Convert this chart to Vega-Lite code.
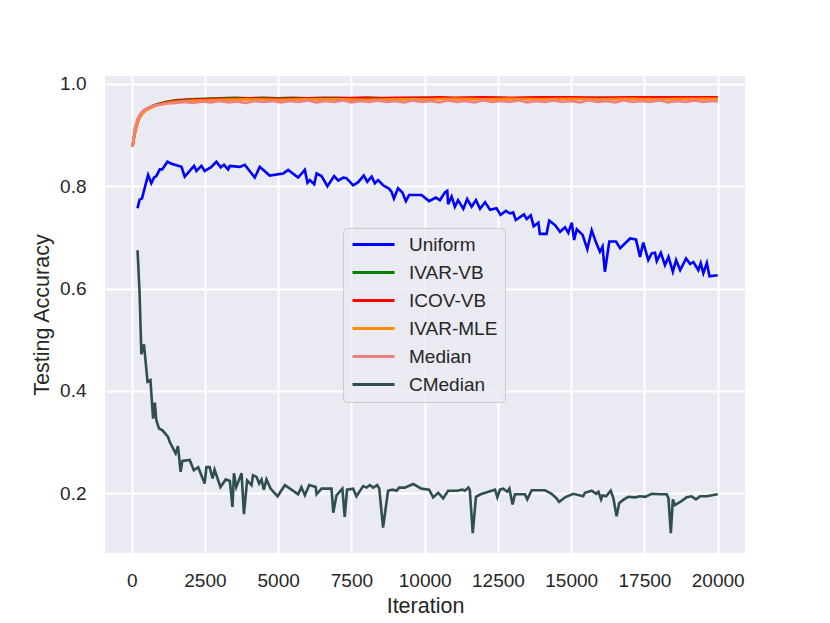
{
  "$schema": "https://vega.github.io/schema/vega-lite/v6.json",
  "width": 640,
  "height": 477,
  "autosize": {"type": "none"},
  "padding": {"left": 105, "top": 76, "right": 85, "bottom": 70},
  "background": "white",
  "config": {
    "view": {"fill": "#EAEAF2", "stroke": null},
    "font": "Liberation Sans",
    "axis": {
      "domain": false, "ticks": false, "grid": true, "gridColor": "white", "gridWidth": 2,
      "labelFont": "Liberation Sans", "labelFontSize": 19, "labelColor": "#262626",
      "titleFont": "Liberation Sans", "titleFontSize": 21.5, "titleFontWeight": "normal", "titleColor": "#262626"
    },
    "legend": {
      "orient": "none", "legendX": 238, "legendY": 152,
      "fillColor": "rgba(234,234,242,0.8)", "strokeColor": "#cccccc", "cornerRadius": 4,
      "padding": 7, "symbolType": "M-1,0L5,0", "symbolSize": 196, "symbolStrokeWidth": 3,
      "symbolFillColor": "transparent",
      "labelFont": "Liberation Sans", "labelFontSize": 19, "labelColor": "#262626",
      "labelOffset": 40, "rowPadding": 8
    }
  },
  "data": {
    "values": [
      {"s": "Uniform", "it": 200, "acc": 0.757}, {"s": "Uniform", "it": 270, "acc": 0.774}, {"s": "Uniform", "it": 350, "acc": 0.776},
      {"s": "Uniform", "it": 560, "acc": 0.822}, {"s": "Uniform", "it": 670, "acc": 0.806}, {"s": "Uniform", "it": 760, "acc": 0.817},
      {"s": "Uniform", "it": 840, "acc": 0.820}, {"s": "Uniform", "it": 960, "acc": 0.833}, {"s": "Uniform", "it": 1040, "acc": 0.833},
      {"s": "Uniform", "it": 1220, "acc": 0.848}, {"s": "Uniform", "it": 1360, "acc": 0.844}, {"s": "Uniform", "it": 1700, "acc": 0.838},
      {"s": "Uniform", "it": 1810, "acc": 0.819}, {"s": "Uniform", "it": 1980, "acc": 0.830}, {"s": "Uniform", "it": 2130, "acc": 0.840},
      {"s": "Uniform", "it": 2210, "acc": 0.830}, {"s": "Uniform", "it": 2380, "acc": 0.840}, {"s": "Uniform", "it": 2490, "acc": 0.830},
      {"s": "Uniform", "it": 2700, "acc": 0.837}, {"s": "Uniform", "it": 2890, "acc": 0.848}, {"s": "Uniform", "it": 3040, "acc": 0.837},
      {"s": "Uniform", "it": 3150, "acc": 0.842}, {"s": "Uniform", "it": 3290, "acc": 0.833}, {"s": "Uniform", "it": 3350, "acc": 0.840},
      {"s": "Uniform", "it": 3690, "acc": 0.838}, {"s": "Uniform", "it": 3860, "acc": 0.842}, {"s": "Uniform", "it": 4200, "acc": 0.817},
      {"s": "Uniform", "it": 4370, "acc": 0.838}, {"s": "Uniform", "it": 4710, "acc": 0.821}, {"s": "Uniform", "it": 5170, "acc": 0.825},
      {"s": "Uniform", "it": 5340, "acc": 0.832}, {"s": "Uniform", "it": 5680, "acc": 0.817}, {"s": "Uniform", "it": 5910, "acc": 0.832},
      {"s": "Uniform", "it": 6000, "acc": 0.807}, {"s": "Uniform", "it": 6080, "acc": 0.812}, {"s": "Uniform", "it": 6230, "acc": 0.804},
      {"s": "Uniform", "it": 6310, "acc": 0.825}, {"s": "Uniform", "it": 6480, "acc": 0.820}, {"s": "Uniform", "it": 6680, "acc": 0.800},
      {"s": "Uniform", "it": 6910, "acc": 0.820}, {"s": "Uniform", "it": 7050, "acc": 0.811}, {"s": "Uniform", "it": 7220, "acc": 0.817},
      {"s": "Uniform", "it": 7330, "acc": 0.816}, {"s": "Uniform", "it": 7560, "acc": 0.802}, {"s": "Uniform", "it": 7730, "acc": 0.808},
      {"s": "Uniform", "it": 7920, "acc": 0.821}, {"s": "Uniform", "it": 8040, "acc": 0.809}, {"s": "Uniform", "it": 8190, "acc": 0.819},
      {"s": "Uniform", "it": 8300, "acc": 0.806}, {"s": "Uniform", "it": 8410, "acc": 0.812}, {"s": "Uniform", "it": 8580, "acc": 0.802},
      {"s": "Uniform", "it": 8790, "acc": 0.795}, {"s": "Uniform", "it": 8870, "acc": 0.789}, {"s": "Uniform", "it": 8950, "acc": 0.776},
      {"s": "Uniform", "it": 9090, "acc": 0.796}, {"s": "Uniform", "it": 9240, "acc": 0.788}, {"s": "Uniform", "it": 9360, "acc": 0.771},
      {"s": "Uniform", "it": 9470, "acc": 0.783}, {"s": "Uniform", "it": 9890, "acc": 0.783}, {"s": "Uniform", "it": 10150, "acc": 0.771},
      {"s": "Uniform", "it": 10380, "acc": 0.778}, {"s": "Uniform", "it": 10520, "acc": 0.773}, {"s": "Uniform", "it": 10690, "acc": 0.788},
      {"s": "Uniform", "it": 10770, "acc": 0.791}, {"s": "Uniform", "it": 10800, "acc": 0.765}, {"s": "Uniform", "it": 10920, "acc": 0.780},
      {"s": "Uniform", "it": 11030, "acc": 0.760}, {"s": "Uniform", "it": 11140, "acc": 0.773}, {"s": "Uniform", "it": 11320, "acc": 0.756},
      {"s": "Uniform", "it": 11450, "acc": 0.775}, {"s": "Uniform", "it": 11600, "acc": 0.760}, {"s": "Uniform", "it": 11750, "acc": 0.773},
      {"s": "Uniform", "it": 11890, "acc": 0.756}, {"s": "Uniform", "it": 12060, "acc": 0.769}, {"s": "Uniform", "it": 12230, "acc": 0.754},
      {"s": "Uniform", "it": 12450, "acc": 0.757}, {"s": "Uniform", "it": 12590, "acc": 0.744}, {"s": "Uniform", "it": 12770, "acc": 0.752},
      {"s": "Uniform", "it": 12910, "acc": 0.747}, {"s": "Uniform", "it": 13020, "acc": 0.749}, {"s": "Uniform", "it": 13110, "acc": 0.734},
      {"s": "Uniform", "it": 13390, "acc": 0.745}, {"s": "Uniform", "it": 13480, "acc": 0.736}, {"s": "Uniform", "it": 13620, "acc": 0.743},
      {"s": "Uniform", "it": 13720, "acc": 0.722}, {"s": "Uniform", "it": 13880, "acc": 0.729}, {"s": "Uniform", "it": 13930, "acc": 0.707},
      {"s": "Uniform", "it": 14160, "acc": 0.707}, {"s": "Uniform", "it": 14250, "acc": 0.733}, {"s": "Uniform", "it": 14450, "acc": 0.724},
      {"s": "Uniform", "it": 14620, "acc": 0.711}, {"s": "Uniform", "it": 14790, "acc": 0.720}, {"s": "Uniform", "it": 14900, "acc": 0.709},
      {"s": "Uniform", "it": 15020, "acc": 0.729}, {"s": "Uniform", "it": 15100, "acc": 0.695}, {"s": "Uniform", "it": 15190, "acc": 0.716},
      {"s": "Uniform", "it": 15390, "acc": 0.705}, {"s": "Uniform", "it": 15550, "acc": 0.677}, {"s": "Uniform", "it": 15700, "acc": 0.714},
      {"s": "Uniform", "it": 15850, "acc": 0.690}, {"s": "Uniform", "it": 15980, "acc": 0.672}, {"s": "Uniform", "it": 16070, "acc": 0.682},
      {"s": "Uniform", "it": 16150, "acc": 0.633}, {"s": "Uniform", "it": 16300, "acc": 0.692}, {"s": "Uniform", "it": 16530, "acc": 0.692},
      {"s": "Uniform", "it": 16670, "acc": 0.679}, {"s": "Uniform", "it": 17010, "acc": 0.698}, {"s": "Uniform", "it": 17210, "acc": 0.696},
      {"s": "Uniform", "it": 17350, "acc": 0.662}, {"s": "Uniform", "it": 17460, "acc": 0.690}, {"s": "Uniform", "it": 17630, "acc": 0.656},
      {"s": "Uniform", "it": 17750, "acc": 0.669}, {"s": "Uniform", "it": 17860, "acc": 0.670}, {"s": "Uniform", "it": 17920, "acc": 0.654},
      {"s": "Uniform", "it": 18060, "acc": 0.670}, {"s": "Uniform", "it": 18200, "acc": 0.646}, {"s": "Uniform", "it": 18320, "acc": 0.662},
      {"s": "Uniform", "it": 18470, "acc": 0.633}, {"s": "Uniform", "it": 18580, "acc": 0.656}, {"s": "Uniform", "it": 18720, "acc": 0.636},
      {"s": "Uniform", "it": 18920, "acc": 0.659}, {"s": "Uniform", "it": 19060, "acc": 0.648}, {"s": "Uniform", "it": 19170, "acc": 0.652},
      {"s": "Uniform", "it": 19340, "acc": 0.636}, {"s": "Uniform", "it": 19420, "acc": 0.650}, {"s": "Uniform", "it": 19510, "acc": 0.630},
      {"s": "Uniform", "it": 19630, "acc": 0.650}, {"s": "Uniform", "it": 19720, "acc": 0.624}, {"s": "Uniform", "it": 20000, "acc": 0.626},

      {"s": "IVAR-VB", "it": 30, "acc": 0.878}, {"s": "IVAR-VB", "it": 100, "acc": 0.904}, {"s": "IVAR-VB", "it": 200, "acc": 0.927},
      {"s": "IVAR-VB", "it": 300, "acc": 0.939}, {"s": "IVAR-VB", "it": 400, "acc": 0.946}, {"s": "IVAR-VB", "it": 500, "acc": 0.951},
      {"s": "IVAR-VB", "it": 700, "acc": 0.957}, {"s": "IVAR-VB", "it": 900, "acc": 0.961}, {"s": "IVAR-VB", "it": 1200, "acc": 0.965},
      {"s": "IVAR-VB", "it": 1500, "acc": 0.968}, {"s": "IVAR-VB", "it": 2000, "acc": 0.970}, {"s": "IVAR-VB", "it": 2500, "acc": 0.971},
      {"s": "IVAR-VB", "it": 3000, "acc": 0.972}, {"s": "IVAR-VB", "it": 3500, "acc": 0.973}, {"s": "IVAR-VB", "it": 4000, "acc": 0.972},
      {"s": "IVAR-VB", "it": 4500, "acc": 0.973}, {"s": "IVAR-VB", "it": 5000, "acc": 0.972}, {"s": "IVAR-VB", "it": 5500, "acc": 0.973},
      {"s": "IVAR-VB", "it": 6000, "acc": 0.972}, {"s": "IVAR-VB", "it": 6500, "acc": 0.973}, {"s": "IVAR-VB", "it": 7000, "acc": 0.973},
      {"s": "IVAR-VB", "it": 7500, "acc": 0.972}, {"s": "IVAR-VB", "it": 8000, "acc": 0.973}, {"s": "IVAR-VB", "it": 9000, "acc": 0.972},
      {"s": "IVAR-VB", "it": 10000, "acc": 0.973}, {"s": "IVAR-VB", "it": 11000, "acc": 0.972}, {"s": "IVAR-VB", "it": 12000, "acc": 0.973},
      {"s": "IVAR-VB", "it": 13000, "acc": 0.972}, {"s": "IVAR-VB", "it": 14000, "acc": 0.973}, {"s": "IVAR-VB", "it": 15000, "acc": 0.972},
      {"s": "IVAR-VB", "it": 16000, "acc": 0.973}, {"s": "IVAR-VB", "it": 17000, "acc": 0.972}, {"s": "IVAR-VB", "it": 18000, "acc": 0.973},
      {"s": "IVAR-VB", "it": 19000, "acc": 0.972}, {"s": "IVAR-VB", "it": 20000, "acc": 0.973},

      {"s": "ICOV-VB", "it": 30, "acc": 0.878}, {"s": "ICOV-VB", "it": 100, "acc": 0.903}, {"s": "ICOV-VB", "it": 200, "acc": 0.926},
      {"s": "ICOV-VB", "it": 300, "acc": 0.938}, {"s": "ICOV-VB", "it": 400, "acc": 0.945}, {"s": "ICOV-VB", "it": 500, "acc": 0.950},
      {"s": "ICOV-VB", "it": 700, "acc": 0.956}, {"s": "ICOV-VB", "it": 900, "acc": 0.960}, {"s": "ICOV-VB", "it": 1200, "acc": 0.964},
      {"s": "ICOV-VB", "it": 1500, "acc": 0.967}, {"s": "ICOV-VB", "it": 2000, "acc": 0.969}, {"s": "ICOV-VB", "it": 2500, "acc": 0.970},
      {"s": "ICOV-VB", "it": 3000, "acc": 0.971}, {"s": "ICOV-VB", "it": 3500, "acc": 0.971}, {"s": "ICOV-VB", "it": 4000, "acc": 0.972},
      {"s": "ICOV-VB", "it": 5000, "acc": 0.971}, {"s": "ICOV-VB", "it": 6000, "acc": 0.972}, {"s": "ICOV-VB", "it": 7000, "acc": 0.972},
      {"s": "ICOV-VB", "it": 8000, "acc": 0.973}, {"s": "ICOV-VB", "it": 8500, "acc": 0.972}, {"s": "ICOV-VB", "it": 9000, "acc": 0.973},
      {"s": "ICOV-VB", "it": 10000, "acc": 0.973}, {"s": "ICOV-VB", "it": 10500, "acc": 0.974}, {"s": "ICOV-VB", "it": 11000, "acc": 0.973},
      {"s": "ICOV-VB", "it": 12000, "acc": 0.974}, {"s": "ICOV-VB", "it": 13000, "acc": 0.973}, {"s": "ICOV-VB", "it": 14000, "acc": 0.974},
      {"s": "ICOV-VB", "it": 15000, "acc": 0.974}, {"s": "ICOV-VB", "it": 16000, "acc": 0.973}, {"s": "ICOV-VB", "it": 17000, "acc": 0.974},
      {"s": "ICOV-VB", "it": 18000, "acc": 0.974}, {"s": "ICOV-VB", "it": 19000, "acc": 0.974}, {"s": "ICOV-VB", "it": 20000, "acc": 0.974},

      {"s": "IVAR-MLE", "it": 30, "acc": 0.878}, {"s": "IVAR-MLE", "it": 100, "acc": 0.900}, {"s": "IVAR-MLE", "it": 200, "acc": 0.925},
      {"s": "IVAR-MLE", "it": 300, "acc": 0.937}, {"s": "IVAR-MLE", "it": 400, "acc": 0.944}, {"s": "IVAR-MLE", "it": 500, "acc": 0.949},
      {"s": "IVAR-MLE", "it": 700, "acc": 0.955}, {"s": "IVAR-MLE", "it": 900, "acc": 0.959}, {"s": "IVAR-MLE", "it": 1200, "acc": 0.963},
      {"s": "IVAR-MLE", "it": 1500, "acc": 0.965}, {"s": "IVAR-MLE", "it": 2000, "acc": 0.967}, {"s": "IVAR-MLE", "it": 2500, "acc": 0.968},
      {"s": "IVAR-MLE", "it": 3000, "acc": 0.969}, {"s": "IVAR-MLE", "it": 4000, "acc": 0.970}, {"s": "IVAR-MLE", "it": 5000, "acc": 0.969},
      {"s": "IVAR-MLE", "it": 6000, "acc": 0.970}, {"s": "IVAR-MLE", "it": 7000, "acc": 0.970}, {"s": "IVAR-MLE", "it": 8000, "acc": 0.969},
      {"s": "IVAR-MLE", "it": 9000, "acc": 0.970}, {"s": "IVAR-MLE", "it": 10000, "acc": 0.970}, {"s": "IVAR-MLE", "it": 11000, "acc": 0.971},
      {"s": "IVAR-MLE", "it": 12000, "acc": 0.970}, {"s": "IVAR-MLE", "it": 13000, "acc": 0.971}, {"s": "IVAR-MLE", "it": 14000, "acc": 0.970},
      {"s": "IVAR-MLE", "it": 15000, "acc": 0.971}, {"s": "IVAR-MLE", "it": 16000, "acc": 0.970}, {"s": "IVAR-MLE", "it": 17000, "acc": 0.971},
      {"s": "IVAR-MLE", "it": 18000, "acc": 0.970}, {"s": "IVAR-MLE", "it": 19000, "acc": 0.971}, {"s": "IVAR-MLE", "it": 20000, "acc": 0.971},

      {"s": "Median", "it": 30, "acc": 0.878}, {"s": "Median", "it": 100, "acc": 0.912}, {"s": "Median", "it": 200, "acc": 0.932},
      {"s": "Median", "it": 300, "acc": 0.942}, {"s": "Median", "it": 400, "acc": 0.948}, {"s": "Median", "it": 500, "acc": 0.952},
      {"s": "Median", "it": 700, "acc": 0.957}, {"s": "Median", "it": 900, "acc": 0.959}, {"s": "Median", "it": 1200, "acc": 0.962},
      {"s": "Median", "it": 1500, "acc": 0.963}, {"s": "Median", "it": 1800, "acc": 0.965}, {"s": "Median", "it": 2100, "acc": 0.963},
      {"s": "Median", "it": 2400, "acc": 0.966}, {"s": "Median", "it": 2700, "acc": 0.964}, {"s": "Median", "it": 3000, "acc": 0.967},
      {"s": "Median", "it": 3300, "acc": 0.964}, {"s": "Median", "it": 3600, "acc": 0.966}, {"s": "Median", "it": 3900, "acc": 0.963},
      {"s": "Median", "it": 4200, "acc": 0.967}, {"s": "Median", "it": 4500, "acc": 0.965}, {"s": "Median", "it": 4800, "acc": 0.967},
      {"s": "Median", "it": 5100, "acc": 0.964}, {"s": "Median", "it": 5400, "acc": 0.967}, {"s": "Median", "it": 5700, "acc": 0.965},
      {"s": "Median", "it": 6000, "acc": 0.968}, {"s": "Median", "it": 6300, "acc": 0.964}, {"s": "Median", "it": 6600, "acc": 0.967},
      {"s": "Median", "it": 6900, "acc": 0.965}, {"s": "Median", "it": 7200, "acc": 0.968}, {"s": "Median", "it": 7500, "acc": 0.964},
      {"s": "Median", "it": 7800, "acc": 0.967}, {"s": "Median", "it": 8100, "acc": 0.965}, {"s": "Median", "it": 8400, "acc": 0.968},
      {"s": "Median", "it": 8700, "acc": 0.965}, {"s": "Median", "it": 9000, "acc": 0.967}, {"s": "Median", "it": 9300, "acc": 0.964},
      {"s": "Median", "it": 9600, "acc": 0.968}, {"s": "Median", "it": 9900, "acc": 0.965}, {"s": "Median", "it": 10200, "acc": 0.967},
      {"s": "Median", "it": 10500, "acc": 0.964}, {"s": "Median", "it": 10800, "acc": 0.968}, {"s": "Median", "it": 11100, "acc": 0.965},
      {"s": "Median", "it": 11400, "acc": 0.967}, {"s": "Median", "it": 11700, "acc": 0.964}, {"s": "Median", "it": 12000, "acc": 0.968},
      {"s": "Median", "it": 12300, "acc": 0.965}, {"s": "Median", "it": 12600, "acc": 0.967}, {"s": "Median", "it": 12900, "acc": 0.965},
      {"s": "Median", "it": 13200, "acc": 0.968}, {"s": "Median", "it": 13500, "acc": 0.964}, {"s": "Median", "it": 13800, "acc": 0.967},
      {"s": "Median", "it": 14100, "acc": 0.965}, {"s": "Median", "it": 14400, "acc": 0.968}, {"s": "Median", "it": 14700, "acc": 0.965},
      {"s": "Median", "it": 15000, "acc": 0.967}, {"s": "Median", "it": 15300, "acc": 0.964}, {"s": "Median", "it": 15600, "acc": 0.968},
      {"s": "Median", "it": 15900, "acc": 0.965}, {"s": "Median", "it": 16200, "acc": 0.967}, {"s": "Median", "it": 16500, "acc": 0.964},
      {"s": "Median", "it": 16800, "acc": 0.968}, {"s": "Median", "it": 17100, "acc": 0.965}, {"s": "Median", "it": 17400, "acc": 0.967},
      {"s": "Median", "it": 17700, "acc": 0.965}, {"s": "Median", "it": 18000, "acc": 0.968}, {"s": "Median", "it": 18300, "acc": 0.964},
      {"s": "Median", "it": 18600, "acc": 0.967}, {"s": "Median", "it": 18900, "acc": 0.965}, {"s": "Median", "it": 19200, "acc": 0.968},
      {"s": "Median", "it": 19500, "acc": 0.965}, {"s": "Median", "it": 19800, "acc": 0.967}, {"s": "Median", "it": 20000, "acc": 0.966},

      {"s": "CMedian", "it": 200, "acc": 0.675}, {"s": "CMedian", "it": 270, "acc": 0.591}, {"s": "CMedian", "it": 330, "acc": 0.472},
      {"s": "CMedian", "it": 420, "acc": 0.491}, {"s": "CMedian", "it": 540, "acc": 0.418}, {"s": "CMedian", "it": 640, "acc": 0.421},
      {"s": "CMedian", "it": 730, "acc": 0.346}, {"s": "CMedian", "it": 790, "acc": 0.377}, {"s": "CMedian", "it": 840, "acc": 0.343},
      {"s": "CMedian", "it": 930, "acc": 0.327}, {"s": "CMedian", "it": 1050, "acc": 0.323}, {"s": "CMedian", "it": 1240, "acc": 0.310},
      {"s": "CMedian", "it": 1300, "acc": 0.300}, {"s": "CMedian", "it": 1500, "acc": 0.278}, {"s": "CMedian", "it": 1580, "acc": 0.292},
      {"s": "CMedian", "it": 1670, "acc": 0.242}, {"s": "CMedian", "it": 1730, "acc": 0.263}, {"s": "CMedian", "it": 1980, "acc": 0.265},
      {"s": "CMedian", "it": 2120, "acc": 0.245}, {"s": "CMedian", "it": 2270, "acc": 0.251}, {"s": "CMedian", "it": 2490, "acc": 0.219},
      {"s": "CMedian", "it": 2550, "acc": 0.251}, {"s": "CMedian", "it": 2660, "acc": 0.251}, {"s": "CMedian", "it": 2760, "acc": 0.229},
      {"s": "CMedian", "it": 2830, "acc": 0.246}, {"s": "CMedian", "it": 3030, "acc": 0.212}, {"s": "CMedian", "it": 3210, "acc": 0.227},
      {"s": "CMedian", "it": 3350, "acc": 0.224}, {"s": "CMedian", "it": 3440, "acc": 0.173}, {"s": "CMedian", "it": 3490, "acc": 0.239},
      {"s": "CMedian", "it": 3570, "acc": 0.212}, {"s": "CMedian", "it": 3750, "acc": 0.239}, {"s": "CMedian", "it": 3830, "acc": 0.159},
      {"s": "CMedian", "it": 3940, "acc": 0.225}, {"s": "CMedian", "it": 4090, "acc": 0.216}, {"s": "CMedian", "it": 4140, "acc": 0.235},
      {"s": "CMedian", "it": 4260, "acc": 0.232}, {"s": "CMedian", "it": 4350, "acc": 0.219}, {"s": "CMedian", "it": 4430, "acc": 0.227},
      {"s": "CMedian", "it": 4510, "acc": 0.207}, {"s": "CMedian", "it": 4600, "acc": 0.227}, {"s": "CMedian", "it": 4740, "acc": 0.209},
      {"s": "CMedian", "it": 4980, "acc": 0.194}, {"s": "CMedian", "it": 5230, "acc": 0.216}, {"s": "CMedian", "it": 5680, "acc": 0.198},
      {"s": "CMedian", "it": 5790, "acc": 0.212}, {"s": "CMedian", "it": 5910, "acc": 0.196}, {"s": "CMedian", "it": 6060, "acc": 0.216},
      {"s": "CMedian", "it": 6280, "acc": 0.212}, {"s": "CMedian", "it": 6310, "acc": 0.198}, {"s": "CMedian", "it": 6480, "acc": 0.209},
      {"s": "CMedian", "it": 6820, "acc": 0.209}, {"s": "CMedian", "it": 6880, "acc": 0.162}, {"s": "CMedian", "it": 6990, "acc": 0.196},
      {"s": "CMedian", "it": 7190, "acc": 0.209}, {"s": "CMedian", "it": 7270, "acc": 0.154}, {"s": "CMedian", "it": 7350, "acc": 0.207},
      {"s": "CMedian", "it": 7560, "acc": 0.209}, {"s": "CMedian", "it": 7670, "acc": 0.194}, {"s": "CMedian", "it": 7900, "acc": 0.214},
      {"s": "CMedian", "it": 8020, "acc": 0.211}, {"s": "CMedian", "it": 8130, "acc": 0.216}, {"s": "CMedian", "it": 8240, "acc": 0.211},
      {"s": "CMedian", "it": 8380, "acc": 0.216}, {"s": "CMedian", "it": 8450, "acc": 0.209}, {"s": "CMedian", "it": 8580, "acc": 0.133},
      {"s": "CMedian", "it": 8750, "acc": 0.205}, {"s": "CMedian", "it": 8900, "acc": 0.207}, {"s": "CMedian", "it": 9040, "acc": 0.205},
      {"s": "CMedian", "it": 9130, "acc": 0.211}, {"s": "CMedian", "it": 9320, "acc": 0.211}, {"s": "CMedian", "it": 9610, "acc": 0.218},
      {"s": "CMedian", "it": 9890, "acc": 0.209}, {"s": "CMedian", "it": 10150, "acc": 0.207}, {"s": "CMedian", "it": 10290, "acc": 0.192},
      {"s": "CMedian", "it": 10460, "acc": 0.201}, {"s": "CMedian", "it": 10630, "acc": 0.190}, {"s": "CMedian", "it": 10800, "acc": 0.205},
      {"s": "CMedian", "it": 11090, "acc": 0.205}, {"s": "CMedian", "it": 11290, "acc": 0.207}, {"s": "CMedian", "it": 11370, "acc": 0.205},
      {"s": "CMedian", "it": 11490, "acc": 0.211}, {"s": "CMedian", "it": 11540, "acc": 0.206}, {"s": "CMedian", "it": 11640, "acc": 0.122},
      {"s": "CMedian", "it": 11750, "acc": 0.193}, {"s": "CMedian", "it": 11910, "acc": 0.198}, {"s": "CMedian", "it": 12400, "acc": 0.207},
      {"s": "CMedian", "it": 12480, "acc": 0.192}, {"s": "CMedian", "it": 12570, "acc": 0.207}, {"s": "CMedian", "it": 12680, "acc": 0.209},
      {"s": "CMedian", "it": 12820, "acc": 0.203}, {"s": "CMedian", "it": 12890, "acc": 0.209}, {"s": "CMedian", "it": 13000, "acc": 0.178},
      {"s": "CMedian", "it": 13080, "acc": 0.198}, {"s": "CMedian", "it": 13420, "acc": 0.198}, {"s": "CMedian", "it": 13500, "acc": 0.188},
      {"s": "CMedian", "it": 13650, "acc": 0.206}, {"s": "CMedian", "it": 14100, "acc": 0.206}, {"s": "CMedian", "it": 14330, "acc": 0.199},
      {"s": "CMedian", "it": 14500, "acc": 0.190}, {"s": "CMedian", "it": 14590, "acc": 0.183}, {"s": "CMedian", "it": 14790, "acc": 0.192},
      {"s": "CMedian", "it": 15070, "acc": 0.199}, {"s": "CMedian", "it": 15410, "acc": 0.194}, {"s": "CMedian", "it": 15470, "acc": 0.201},
      {"s": "CMedian", "it": 15700, "acc": 0.205}, {"s": "CMedian", "it": 15850, "acc": 0.199}, {"s": "CMedian", "it": 15930, "acc": 0.203},
      {"s": "CMedian", "it": 16020, "acc": 0.188}, {"s": "CMedian", "it": 16070, "acc": 0.196}, {"s": "CMedian", "it": 16190, "acc": 0.194},
      {"s": "CMedian", "it": 16350, "acc": 0.205}, {"s": "CMedian", "it": 16440, "acc": 0.190}, {"s": "CMedian", "it": 16550, "acc": 0.155},
      {"s": "CMedian", "it": 16640, "acc": 0.181}, {"s": "CMedian", "it": 16800, "acc": 0.188}, {"s": "CMedian", "it": 16950, "acc": 0.193},
      {"s": "CMedian", "it": 17180, "acc": 0.192}, {"s": "CMedian", "it": 17350, "acc": 0.194}, {"s": "CMedian", "it": 17520, "acc": 0.193},
      {"s": "CMedian", "it": 17750, "acc": 0.199}, {"s": "CMedian", "it": 18030, "acc": 0.198}, {"s": "CMedian", "it": 18260, "acc": 0.198},
      {"s": "CMedian", "it": 18320, "acc": 0.190}, {"s": "CMedian", "it": 18400, "acc": 0.122}, {"s": "CMedian", "it": 18470, "acc": 0.188},
      {"s": "CMedian", "it": 18540, "acc": 0.177}, {"s": "CMedian", "it": 18720, "acc": 0.183}, {"s": "CMedian", "it": 18940, "acc": 0.192},
      {"s": "CMedian", "it": 19110, "acc": 0.194}, {"s": "CMedian", "it": 19260, "acc": 0.188}, {"s": "CMedian", "it": 19400, "acc": 0.194},
      {"s": "CMedian", "it": 19630, "acc": 0.194}, {"s": "CMedian", "it": 20000, "acc": 0.198}
    ]
  },
  "mark": {"type": "line", "strokeWidth": 2.6, "clip": true},
  "encoding": {
    "x": {
      "field": "it", "type": "quantitative", "title": "Iteration",
      "scale": {"domain": [-911, 20932], "nice": false, "zero": false},
      "axis": {"values": [0, 2500, 5000, 7500, 10000, 12500, 15000, 17500, 20000], "format": "d", "labelPadding": 18, "titlePadding": 5, "labelFlush": false}
    },
    "y": {
      "field": "acc", "type": "quantitative", "title": "Testing Accuracy",
      "scale": {"domain": [0.0832, 1.0156], "nice": false, "zero": false},
      "axis": {"values": [0.2, 0.4, 0.6, 0.8, 1.0], "format": ".1f", "labelPadding": 19, "titlePadding": 6}
    },
    "color": {
      "field": "s", "type": "nominal", "title": null,
      "scale": {
        "domain": ["Uniform", "IVAR-VB", "ICOV-VB", "IVAR-MLE", "Median", "CMedian"],
        "range": ["#0000ff", "#008000", "#ff0000", "#ff8c00", "#f08080", "#2f4f4f"]
      }
    },
    "order": {"field": "it", "type": "quantitative"}
  }
}
